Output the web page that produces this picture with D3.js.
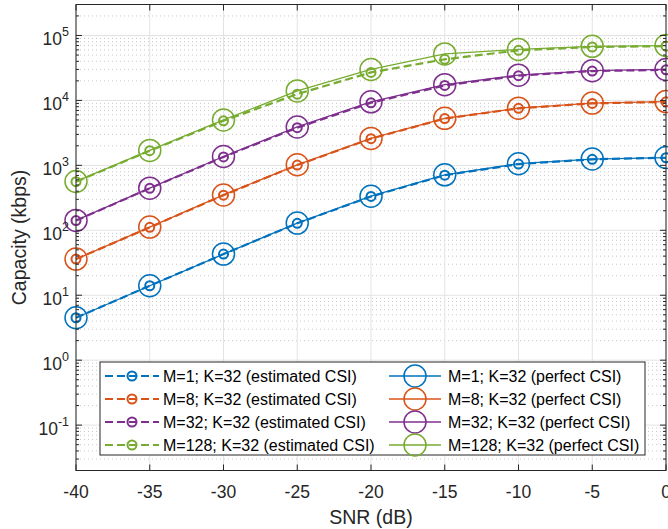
<!DOCTYPE html>
<html>
<head>
<meta charset="utf-8">
<script src="https://cdn.jsdelivr.net/npm/d3@7"></script>
<style>
  body { margin: 0; background: #fff; }
  svg text { font-family: "Liberation Sans", Arial, Helvetica, sans-serif; }
</style>
</head>
<body>
<svg id="chart" width="668" height="529"></svg>
<script>
// SNR values along x (dB)
const snr = [-40, -35, -30, -25, -20, -15, -10, -5, 0];

// Capacity (kbps)
const perfectM1   = [4.5, 14, 43, 129, 335, 715, 1060, 1250, 1320];
const perfectM8   = [36, 112, 350, 1020, 2600, 5300, 7600, 9100, 9600];
const perfectM32  = [142, 446, 1370, 3900, 9500, 17500, 24500, 28700, 30000];
const perfectM128 = [565, 1700, 5000, 14000, 30000, 52000, 61000, 68000, 70000];

const estM1   = [4.5, 14, 43, 128, 332, 705, 1045, 1240, 1310];
const estM8   = [36, 111, 348, 1010, 2580, 5250, 7550, 9000, 9500];
const estM32  = [141, 443, 1350, 3800, 9200, 17000, 24000, 28300, 29600];
const estM128 = [560, 1680, 4850, 12500, 27000, 43000, 59000, 66500, 68500];

const seriesNames = ["M=1; K=32", "M=8; K=32", "M=32; K=32", "M=128; K=32"];
const colors = ["#0072BD", "#D95319", "#7E2F8E", "#77AC30"];
const xTicks = [-40, -35, -30, -25, -20, -15, -10, -5, 0];
const yTicks = [1e-1, 1e0, 1e1, 1e2, 1e3, 1e4, 1e5];

const estimated = [estM1, estM8, estM32, estM128];
const perfect = [perfectM1, perfectM8, perfectM32, perfectM128];

const svg = d3.select("#chart");
const pLeft = 76, pRight = 666, pTop = 4.5, pBottom = 470.5;
const axisColor = "#262626";

const x = d3.scaleLinear().domain([-40, 0]).range([pLeft, pRight]);
const y = d3.scaleLog().domain([0.02, 3e5]).range([pBottom, pTop]);

// minor log ticks
const minorTicks = [];
for (let e = -2; e <= 5; e++) {
  for (let m = 2; m <= 9; m++) {
    const v = m * Math.pow(10, e);
    if (v >= 0.02 && v <= 3e5) minorTicks.push(v);
  }
}

// grid
const grid = svg.append("g");
grid.selectAll(".ymin").data(minorTicks).join("line")
  .attr("x1", pLeft).attr("x2", pRight)
  .attr("y1", d => y(d)).attr("y2", d => y(d))
  .attr("stroke", "#c8c8c8").attr("stroke-width", 1)
  .attr("stroke-dasharray", "1,3");
grid.selectAll(".ymaj").data(yTicks).join("line")
  .attr("x1", pLeft).attr("x2", pRight)
  .attr("y1", d => y(d)).attr("y2", d => y(d))
  .attr("stroke", "#e3e3e3").attr("stroke-width", 1);
grid.selectAll(".xmaj").data(xTicks).join("line")
  .attr("x1", d => x(d)).attr("x2", d => x(d))
  .attr("y1", pTop).attr("y2", pBottom)
  .attr("stroke", "#e3e3e3").attr("stroke-width", 1);

// data
const line = d3.line().x((d, i) => x(snr[i])).y(d => y(d));
const plot = svg.append("g");

perfect.forEach((vals, k) => {
  plot.append("path").datum(vals)
    .attr("d", line).attr("fill", "none")
    .attr("stroke", colors[k]).attr("stroke-width", 1.3);
  plot.selectAll(null).data(vals).join("circle")
    .attr("cx", (d, i) => x(snr[i])).attr("cy", d => y(d)).attr("r", 11)
    .attr("fill", "none").attr("stroke", colors[k]).attr("stroke-width", 1.5);
});
estimated.forEach((vals, k) => {
  plot.append("path").datum(vals)
    .attr("d", line).attr("fill", "none")
    .attr("stroke", colors[k]).attr("stroke-width", 2.2)
    .attr("stroke-dasharray", "8,4");
  plot.selectAll(null).data(vals).join("circle")
    .attr("cx", (d, i) => x(snr[i])).attr("cy", d => y(d)).attr("r", 4.5)
    .attr("fill", "none").attr("stroke", colors[k]).attr("stroke-width", 2);
});

// axes box
const axes = svg.append("g");
axes.append("rect")
  .attr("x", pLeft).attr("y", pTop)
  .attr("width", pRight - pLeft).attr("height", pBottom - pTop)
  .attr("fill", "none").attr("stroke", axisColor).attr("stroke-width", 1);

// x ticks (bottom and top)
xTicks.forEach(t => {
  axes.append("line").attr("x1", x(t)).attr("x2", x(t))
    .attr("y1", pBottom).attr("y2", pBottom - 6).attr("stroke", axisColor);
  axes.append("line").attr("x1", x(t)).attr("x2", x(t))
    .attr("y1", pTop).attr("y2", pTop + 6).attr("stroke", axisColor);
});
axes.selectAll(".xl").data(xTicks).join("text")
  .attr("x", d => x(d)).attr("y", 498)
  .attr("text-anchor", "middle").attr("font-size", 17.5)
  .attr("fill", axisColor).text(d => d);

// y ticks
yTicks.forEach(t => {
  axes.append("line").attr("x1", pLeft).attr("x2", pLeft + 6)
    .attr("y1", y(t)).attr("y2", y(t)).attr("stroke", axisColor);
  axes.append("line").attr("x1", pRight).attr("x2", pRight - 6)
    .attr("y1", y(t)).attr("y2", y(t)).attr("stroke", axisColor);
});
minorTicks.forEach(t => {
  axes.append("line").attr("x1", pLeft).attr("x2", pLeft + 3)
    .attr("y1", y(t)).attr("y2", y(t)).attr("stroke", axisColor);
  axes.append("line").attr("x1", pRight).attr("x2", pRight - 3)
    .attr("y1", y(t)).attr("y2", y(t)).attr("stroke", axisColor);
});
const yl = axes.selectAll(".yl").data(yTicks).join("text")
  .attr("x", 69).attr("y", d => y(d) + 10)
  .attr("text-anchor", "end").attr("font-size", 17.5)
  .attr("fill", axisColor);
yl.append("tspan").text("10");
yl.append("tspan").attr("dy", -9).attr("font-size", 12.5)
  .text(d => Math.round(Math.log10(d)));

// axis labels
svg.append("text").attr("x", (pLeft + pRight) / 2).attr("y", 524)
  .attr("text-anchor", "middle").attr("font-size", 19.5)
  .attr("fill", axisColor).text("SNR (dB)");
svg.append("text")
  .attr("transform", `translate(26,${(pTop + pBottom) / 2}) rotate(-90)`)
  .attr("text-anchor", "middle").attr("font-size", 19.5)
  .attr("fill", axisColor).text("Capacity (kbps)");

// legend
const legend = svg.append("g");
legend.append("rect").attr("x", 100).attr("y", 362)
  .attr("width", 545).attr("height", 93)
  .attr("fill", "#fff").attr("stroke", axisColor).attr("stroke-width", 1);
const rowY = [376, 399, 422, 445];
seriesNames.forEach((name, k) => {
  const ry = rowY[k];
  legend.append("line").attr("x1", 105).attr("x2", 159)
    .attr("y1", ry).attr("y2", ry)
    .attr("stroke", colors[k]).attr("stroke-width", 2.2)
    .attr("stroke-dasharray", "8,4");
  legend.append("circle").attr("cx", 132).attr("cy", ry).attr("r", 4.5)
    .attr("fill", "none").attr("stroke", colors[k]).attr("stroke-width", 2);
  legend.append("text").attr("x", 163).attr("y", ry + 5.5)
    .attr("font-size", 16).attr("fill", "#000")
    .text(name + " (estimated CSI)");

  legend.append("line").attr("x1", 389).attr("x2", 441)
    .attr("y1", ry).attr("y2", ry)
    .attr("stroke", colors[k]).attr("stroke-width", 1.3);
  legend.append("circle").attr("cx", 415).attr("cy", ry).attr("r", 11)
    .attr("fill", "none").attr("stroke", colors[k]).attr("stroke-width", 1.5);
  legend.append("text").attr("x", 448).attr("y", ry + 5.5)
    .attr("font-size", 16).attr("fill", "#000")
    .text(name + " (perfect CSI)");
});
</script>
</body>
</html>
